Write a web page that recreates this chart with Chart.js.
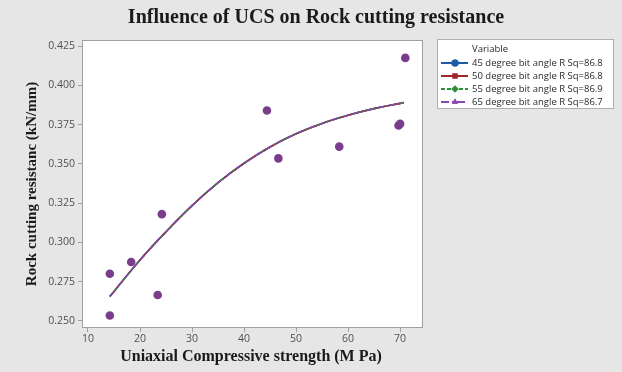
<!DOCTYPE html>
<html>
<head>
<meta charset="utf-8">
<script src="https://cdn.jsdelivr.net/npm/chart.js@4/dist/chart.umd.min.js"></script>
<style>
  html, body { margin: 0; padding: 0; background: #e6e6e6; }
  #wrap { width: 622px; height: 372px; }
</style>
</head>
<body>
<div id="wrap"><canvas id="c" width="622" height="372"></canvas></div>
<script>
// Measured UCS (MPa) and rock cutting resistance (kN/mm)
const ucs = [14.2, 14.2, 18.3, 23.4, 24.2, 44.4, 46.6, 58.3, 69.7, 70.0, 71.0];
const resistance45 = [0.280, 0.2535, 0.2875, 0.2665, 0.318, 0.384, 0.3535, 0.361, 0.3745, 0.3755, 0.4175];
const resistance50 = [0.280, 0.2535, 0.2875, 0.2665, 0.318, 0.384, 0.3535, 0.361, 0.3745, 0.3755, 0.4175];
const resistance55 = [0.280, 0.2535, 0.2875, 0.2665, 0.318, 0.384, 0.3535, 0.361, 0.3745, 0.3755, 0.4175];
const resistance65 = [0.280, 0.2535, 0.2875, 0.2665, 0.318, 0.384, 0.3535, 0.361, 0.3745, 0.3755, 0.4175];

// Fitted quadratic regression curves
const fitUcs = [14.2, 20, 25, 30, 35, 40, 45, 50, 55, 60, 65, 70.7];
const fit45 = [0.2655, 0.2888, 0.3068, 0.3234, 0.3380, 0.3504, 0.3608, 0.3692, 0.3758, 0.3810, 0.3852, 0.3890];
const fit50 = [0.2655, 0.2888, 0.3068, 0.3234, 0.3380, 0.3504, 0.3608, 0.3692, 0.3758, 0.3810, 0.3852, 0.3890];
const fit55 = [0.2655, 0.2888, 0.3068, 0.3234, 0.3380, 0.3504, 0.3608, 0.3692, 0.3758, 0.3810, 0.3852, 0.3890];
const fit65 = [0.2655, 0.2888, 0.3068, 0.3234, 0.3380, 0.3504, 0.3608, 0.3692, 0.3758, 0.3810, 0.3852, 0.3890];

const seriesNames = [
  "45 degree bit angle R Sq=86.8",
  "50 degree bit angle R Sq=86.8",
  "55 degree bit angle R Sq=86.9",
  "65 degree bit angle R Sq=86.7"
];
const xTicks = [10, 20, 30, 40, 50, 60, 70];
const yTicks = [0.250, 0.275, 0.300, 0.325, 0.350, 0.375, 0.400, 0.425];

const colors = ["#1f5aa6", "#a3262a", "#2f8f3a", "#8a47b0"];
const shapes = ["circle", "rect", "rectRot", "triangle"];
const dashes = [[], [], [4, 3], [6, 2, 2, 2]];

const pts = (xs, ys) => xs.map((x, i) => ({ x: x, y: ys[i] }));
const obs = [resistance45, resistance50, resistance55, resistance65];
const fits = [fit45, fit50, fit55, fit65];

const datasets = [];
fits.forEach((f, i) => {
  datasets.push({
    type: "line",
    label: seriesNames[i] + " fit",
    data: pts(fitUcs, f),
    borderColor: colors[i],
    borderWidth: 1.6,
    borderDash: dashes[i],
    pointRadius: 0,
    tension: 0.4,
    fill: false,
    order: 10 - i
  });
});
obs.forEach((o, i) => {
  datasets.push({
    type: "scatter",
    label: seriesNames[i],
    data: pts(ucs, o),
    backgroundColor: i === 3 ? "#7a3d8c" : colors[i],
    borderColor: i === 3 ? "#7a3d8c" : colors[i],
    pointStyle: i === 3 ? "circle" : shapes[i],
    pointRadius: i === 3 ? 4.3 : 3.2,
    borderWidth: 0,
    order: 4 - i
  });
});

const PLOT = { left: 82, right: 423, top: 40, bottom: 328 };

const decor = {
  id: "decor",
  beforeDraw(chart) {
    const ctx = chart.ctx;
    const a = chart.chartArea;
    ctx.save();
    ctx.fillStyle = "#e6e6e6";
    ctx.fillRect(0, 0, chart.width, chart.height);
    ctx.fillStyle = "#ffffff";
    ctx.fillRect(a.left, a.top, a.right - a.left, a.bottom - a.top);
    ctx.restore();
  },
  afterDraw(chart) {
    const ctx = chart.ctx;
    const a = chart.chartArea;
    ctx.save();
    // plot frame
    ctx.strokeStyle = "#a0a0a0";
    ctx.lineWidth = 1;
    ctx.strokeRect(a.left + 0.5, a.top + 0.5, a.right - a.left - 1, a.bottom - a.top - 1);

    // title
    ctx.fillStyle = "#1a1a1a";
    ctx.font = "bold 20px 'Liberation Serif', 'Times New Roman', serif";
    ctx.textAlign = "center";
    ctx.textBaseline = "middle";
    ctx.fillText("Influence of UCS on Rock cutting resistance", 316, 18);

    // axis titles
    ctx.font = "bold 16px 'Liberation Serif', 'Times New Roman', serif";
    ctx.fillText("Uniaxial Compressive strength (M Pa)", 251, 357);
    ctx.font = "bold 15px 'Liberation Serif', 'Times New Roman', serif";
    ctx.save();
    ctx.translate(32, 184);
    ctx.rotate(-Math.PI / 2);
    ctx.fillText("Rock cutting resistanc (kN/mm)", 0, 0);
    ctx.restore();

    // legend
    const lx = 437, ly = 39, lw = 176, lh = 69;
    ctx.fillStyle = "#ffffff";
    ctx.fillRect(lx, ly, lw, lh);
    ctx.strokeStyle = "#b0b0b0";
    ctx.strokeRect(lx + 0.5, ly + 0.5, lw, lh);
    ctx.font = "9.5px 'Open Sans', 'Noto Sans', sans-serif";
    ctx.textAlign = "left";
    ctx.fillStyle = "#2a2a2a";
    ctx.fillText("Variable", 472, 49);
    const rows = [63, 76, 89, 102];
    rows.forEach((y, i) => {
      ctx.strokeStyle = colors[i];
      ctx.lineWidth = 2;
      ctx.setLineDash(dashes[i].length ? (i === 3 ? [8, 3, 2, 3] : [4, 2]) : []);
      ctx.beginPath();
      ctx.moveTo(441, y);
      ctx.lineTo(468, y);
      ctx.stroke();
      ctx.setLineDash([]);
      ctx.fillStyle = colors[i];
      Chart.helpers.drawPoint(ctx, { pointStyle: shapes[i], radius: 3.6, rotation: 0, borderWidth: 0 }, 455, y);
      ctx.fill();
      ctx.fillStyle = "#2a2a2a";
      ctx.fillText(seriesNames[i], 472, y);
    });
    ctx.restore();
  }
};

new Chart(document.getElementById("c"), {
  data: { datasets: datasets },
  options: {
    responsive: false,
    animation: false,
    layout: { padding: { left: 0, right: 622 - PLOT.right, top: PLOT.top, bottom: 0 } },
    plugins: { legend: { display: false }, tooltip: { enabled: false }, title: { display: false } },
    scales: {
      x: {
        type: "linear",
        min: 8.85,
        max: 74.4,
        afterBuildTicks: (s) => { s.ticks = xTicks.map(v => ({ value: v })); },
        afterFit: (s) => { s.height = 372 - PLOT.bottom; },
        grid: { drawOnChartArea: false, drawTicks: true, tickLength: 4, color: "#a0a0a0" },
        border: { display: false },
        ticks: { color: "#505050", font: { family: "'Open Sans', 'Noto Sans', sans-serif", size: 10.5 }, padding: 1, maxRotation: 0 }
      },
      y: {
        type: "linear",
        min: 0.2455,
        max: 0.4289,
        afterBuildTicks: (s) => { s.ticks = yTicks.map(v => ({ value: v })); },
        afterFit: (s) => { s.width = PLOT.left; },
        grid: { drawOnChartArea: false, drawTicks: true, tickLength: 4, color: "#a0a0a0" },
        border: { display: false },
        ticks: { color: "#505050", font: { family: "'Open Sans', 'Noto Sans', sans-serif", size: 10.5 }, padding: 3, callback: (v) => Number(v).toFixed(3) }
      }
    }
  },
  plugins: [decor]
});
</script>
</body>
</html>
